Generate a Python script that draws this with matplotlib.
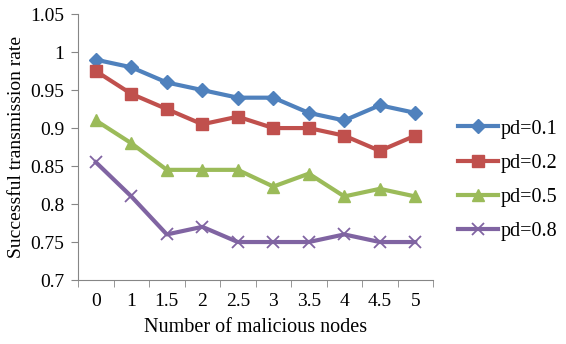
import matplotlib
matplotlib.use("Agg")
import matplotlib.pyplot as plt
import numpy as np

categories = ["0", "1", "1.5", "2", "2.5", "3", "3.5", "4", "4.5", "5"]
pd01 = [0.99, 0.98, 0.96, 0.95, 0.94, 0.94, 0.92, 0.91, 0.93, 0.92]
pd02 = [0.975, 0.945, 0.925, 0.905, 0.915, 0.90, 0.90, 0.89, 0.87, 0.89]
pd05 = [0.91, 0.88, 0.845, 0.845, 0.845, 0.823, 0.84, 0.81, 0.82, 0.81]
pd08 = [0.855, 0.81, 0.76, 0.77, 0.75, 0.75, 0.75, 0.76, 0.75, 0.75]

plt.rcParams['font.family'] = ['Liberation Serif', 'DejaVu Serif']

fig = plt.figure(figsize=(5.66, 3.44), dpi=100)
ax = fig.add_axes([0.138, 0.186, 0.627, 0.773])

x = np.arange(len(categories))
ax.plot(x, pd01, color='#4F81BD', lw=3, marker='D', ms=7, label='pd=0.1')
ax.plot(x, pd02, color='#C0504D', lw=3, marker='s', ms=9, label='pd=0.2')
ax.plot(x, pd05, color='#9BBB59', lw=3, marker='^', ms=9, label='pd=0.5')
ax.plot(x, pd08, color='#8064A2', lw=3, marker='x', ms=9, mew=1.3, label='pd=0.8')

ax.set_xlim(-0.5, len(categories) - 0.5)
ax.set_ylim(0.7, 1.05)
ax.set_yticks(np.arange(0.7, 1.051, 0.05))
ax.set_yticklabels(['0.7', '0.75', '0.8', '0.85', '0.9', '0.95', '1', '1.05'])
ax.set_xticks(x)
ax.set_xticklabels(categories)
ax.set_xticks(np.arange(-0.5, len(categories), 1), minor=True)
ax.tick_params(axis='x', which='major', length=0, pad=9, labelsize=14)
ax.tick_params(axis='x', which='minor', length=5, color='#868686')
ax.tick_params(axis='y', length=5, color='#868686', labelsize=14, pad=5)

for s in ['top', 'right']:
    ax.spines[s].set_visible(False)
for s in ['left', 'bottom']:
    ax.spines[s].set_color('#868686')

ax.set_xlabel('Number of malicious nodes', fontsize=14.5, labelpad=6)
ax.set_ylabel('Successful transmission rate', fontsize=14, labelpad=4)

ax.legend(loc='center left', bbox_to_anchor=(1.02, 0.375), frameon=False,
          fontsize=14.5, handlelength=2.0, labelspacing=0.75, handletextpad=0.1)

fig.savefig('out.png', dpi=100)
